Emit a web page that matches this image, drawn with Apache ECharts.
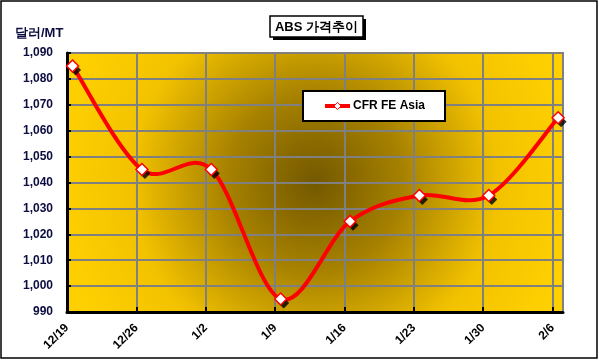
<!DOCTYPE html>
<html><head><meta charset="utf-8">
<script src="https://cdn.jsdelivr.net/npm/echarts@6/dist/echarts.min.js"></script>
<style>html,body{margin:0;padding:0;background:#fff}#c{width:599px;height:361px}</style>
</head><body><div id="c"></div>
<script>
const categories = ['12/19','12/26','1/2','1/9','1/16','1/23','1/30','2/6'];
const cfrFeAsia = [1085, 1045, 1045, 995, 1025, 1035, 1035, 1065];
const seriesName = 'CFR FE Asia';
const yMin = 990, yMax = 1090, yStep = 10;
const titleText = 'ABS 가격추이';
const unitText = '달러/MT';

const FONT = '"Liberation Sans", Arial, sans-serif';
const chart = echarts.init(document.getElementById('c'));
const offset = 0.08;
const points = cfrFeAsia.map((v, i) => [i + offset, v]);

function renderCurve(params, api) {
  if (params.dataIndex !== 0) return;
  const p = points.map(d => api.coord(d));
  const n = p.length;
  const children = [];
  const k = 1 / 6;
  for (let i = 0; i < n - 1; i++) {
    const p0 = p[Math.max(i - 1, 0)], p1 = p[i], p2 = p[i + 1], p3 = p[Math.min(i + 2, n - 1)];
    children.push({
      type: 'bezierCurve',
      shape: {
        x1: p1[0], y1: p1[1], x2: p2[0], y2: p2[1],
        cpx1: p1[0] + (p2[0] - p0[0]) * k, cpy1: p1[1] + (p2[1] - p0[1]) * k,
        cpx2: p2[0] - (p3[0] - p1[0]) * k, cpy2: p2[1] - (p3[1] - p1[1]) * k
      },
      style: {stroke: '#ff0000', lineWidth: 4, fill: null, lineCap: 'round'}
    });
  }
  return {type: 'group', children};
}

chart.setOption({
  animation: false,
  backgroundColor: '#fff',
  grid: {
    left: 67, top: 53, right: 36, bottom: 49,
    show: true, borderColor: '#808080', borderWidth: 2,
    backgroundColor: new echarts.graphic.RadialGradient(0.5, 0.5, 1.0, [
      {offset: 0, color: '#735800'},
      {offset: 0.33, color: '#a58000'},
      {offset: 0.7, color: '#f2c200'},
      {offset: 1, color: '#ffd000'}
    ])
  },
  legend: {
    left: 303, top: 91,
    data: [{name: seriesName, lineStyle: {color: '#ff0000', width: 4, opacity: 1}, itemStyle: {color: '#fff', borderColor: '#ff0000', borderWidth: 1}}],
    backgroundColor: '#fff', borderColor: '#000', borderWidth: 2, borderRadius: 0,
    padding: [9, 20, 9, 20],
    itemWidth: 25, itemHeight: 9, itemGap: 2,
    textStyle: {fontFamily: FONT, fontWeight: 'bold', fontSize: 12, color: '#000', padding: [0, 0, 0, -2]}
  },
  xAxis: {
    type: 'value', min: 0, max: 7.15, interval: 1,
    axisLine: {show: true, lineStyle: {color: '#000', width: 3}},
    axisTick: {show: true, inside: true, length: 5, lineStyle: {color: '#000', width: 2}},
    splitLine: {show: true, lineStyle: {color: '#808080', width: 2}},
    axisLabel: {
      rotate: 45, margin: 14, showMaxLabel: false,
      fontFamily: FONT, fontWeight: 'bold', fontSize: 12, color: '#000',
      formatter: v => (Math.abs(v - Math.round(v)) < 1e-6 && categories[Math.round(v)] !== undefined) ? categories[Math.round(v)] : ''
    }
  },
  yAxis: {
    type: 'value', min: yMin, max: yMax, interval: yStep,
    axisLine: {show: true, lineStyle: {color: '#000', width: 3}},
    axisTick: {show: true, inside: true, length: 4, lineStyle: {color: '#000', width: 2}},
    splitLine: {show: true, lineStyle: {color: '#808080', width: 2}},
    axisLabel: {
      margin: 14, fontFamily: FONT, fontWeight: 'bold', fontSize: 12, color: '#0c0c40',
      formatter: v => v.toLocaleString('en-US')
    }
  },
  series: [
    {
      name: 'curve', type: 'custom', renderItem: renderCurve, data: points,
      silent: true, z: 3, clip: false
    },
    {
      name: 'shadow', type: 'scatter', data: points,
      symbol: 'diamond', symbolSize: 11, symbolOffset: [3, 4],
      itemStyle: {color: '#000'}, z: 4, silent: true
    },
    {
      name: seriesName, type: 'line', data: points,
      lineStyle: {opacity: 0, width: 0},
      symbol: 'diamond', symbolSize: 12, showSymbol: true,
      itemStyle: {color: '#fff', borderColor: '#ff0000', borderWidth: 1.5},
      z: 5
    }
  ],
  graphic: [
    {type: 'rect', shape: {x: 1, y: 1, width: 596, height: 357}, style: {fill: 'none', stroke: '#000', lineWidth: 1.5}, z: 100},
    {type: 'rect', shape: {x: 273, y: 19, width: 93, height: 21}, style: {fill: '#000'}, z: 100},
    {type: 'rect', shape: {x: 270, y: 16, width: 93, height: 21}, style: {fill: '#fff', stroke: '#000', lineWidth: 1.5}, z: 101},
    {type: 'text', x: 316.5, y: 27, z: 102, style: {text: titleText, fontFamily: FONT, fontWeight: 'bold', fontSize: 13, fill: '#000', align: 'center', verticalAlign: 'middle'}},
    {type: 'text', x: 15, y: 33, z: 102, style: {text: unitText, fontFamily: FONT, fontWeight: 'bold', fontSize: 13, fill: '#0c0c40', align: 'left', verticalAlign: 'middle'}}
  ]
});
</script></body></html>
